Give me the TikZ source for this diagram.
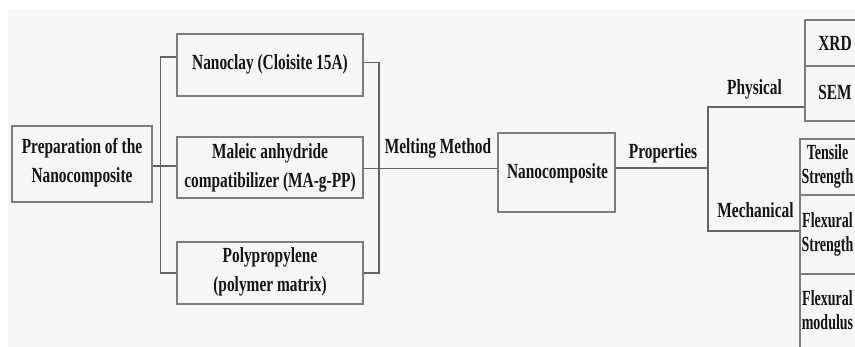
\documentclass[tikz,border=0pt]{standalone}
\usepackage{fontspec}
\setmainfont{Liberation Serif}
\definecolor{bgc}{RGB}{247,247,247}
\definecolor{boxc}{RGB}{125,125,125}
\definecolor{linec}{RGB}{100,100,100}
\definecolor{txtc}{RGB}{22,20,18}
\begin{document}
\begin{tikzpicture}[x=1pt,y=-1pt,
  box/.style={draw=boxc,line width=1.6pt,rectangle,inner sep=0pt},
  conn/.style={draw=linec,line width=1.4pt},
  txt/.style={yscale=1.4,inner sep=0pt,align=center,text=txtc,
    font=\fontsize{15.4}{20.7}\selectfont\bfseries},
  txtr/.style={txt,yscale=1.1,font=\fontsize{14}{15.6}\selectfont\bfseries}]
\useasboundingbox (0,0) rectangle (855,347);
\clip (0,0) rectangle (855,347);
\fill[bgc] (8,9) rectangle (860,350);
% boxes
\node[box,minimum width=140pt,minimum height=76pt] (prep) at (82,164) {};
\node[box,minimum width=186pt,minimum height=62pt] (nanoclay) at (270,65) {};
\node[box,minimum width=186pt,minimum height=61pt] (maleic) at (270,167.5) {};
\node[box,minimum width=186pt,minimum height=62pt] (poly) at (270,273) {};
\node[box,minimum width=117pt,minimum height=79pt] (nano) at (556.5,172.5) {};
\node[box,minimum width=70pt,minimum height=46pt] (xrd) at (840,43) {};
\node[box,minimum width=70pt,minimum height=55pt] (sem) at (840,93.5) {};
\node[box,minimum width=75pt,minimum height=56pt] (tens) at (837.5,167) {};
\node[box,minimum width=75pt,minimum height=79pt] (flexs) at (837.5,234.5) {};
\node[box,minimum width=75pt,minimum height=80pt] (flexm) at (837.5,314) {};
% texts
\node[txt] (tprep) at (82,162.5) {Preparation of the\\Nanocomposite};
\node[txt] (tnanoclay) at (270,64) {Nanoclay (Cloisite 15A)};
\node[txt] (tmaleic) at (270,167.5) {Maleic anhydride\\compatibilizer (MA-g-PP)};
\node[txt] (tpoly) at (270,271.5) {Polypropylene\\(polymer matrix)};
\node[txt] (tnano) at (557.5,173) {Nanocomposite};
\node[txt] (tmelt) at (438,148) {Melting Method};
\node[txt] (tprop) at (663,153) {Properties};
\node[txt] (tphys) at (754.5,89) {Physical};
\node[txt] (tmech) at (755.5,210) {Mechanical};
\node[txt] (txrd) at (835,43) {XRD};
\node[txt] (tsem) at (835,92) {SEM};
\node[txtr] (ttens) at (827.5,166.5) {Tensile\\Strength};
\node[txtr] (tflexs) at (827.5,234) {Flexural\\Strength};
\node[txtr] (tflexm) at (827.5,310) {Flexural\\modulus};
% connectors
\coordinate (pj) at (708,168);
\coordinate (ptop) at (708,107);
\coordinate (pbot) at (708,231);
\draw[conn] ([yshift=8pt]nanoclay.west) -- ++(-16pt,0) |- (poly.west);
\draw[conn] (prep.east |- 0,166) -- (maleic.west |- 0,166);
\draw[conn] ([yshift=2.5pt]nanoclay.east) -- ++(15pt,0) |- (poly.east);
\draw[conn] (maleic.east |- 0,168.5) -- (nano.west |- 0,168.5);
\draw[conn] (nano.east |- pj) -- (pj);
\draw[conn] (sem.west |- ptop) -- (ptop) -- (pbot) -- (flexs.west |- pbot);
\end{tikzpicture}
\end{document}
